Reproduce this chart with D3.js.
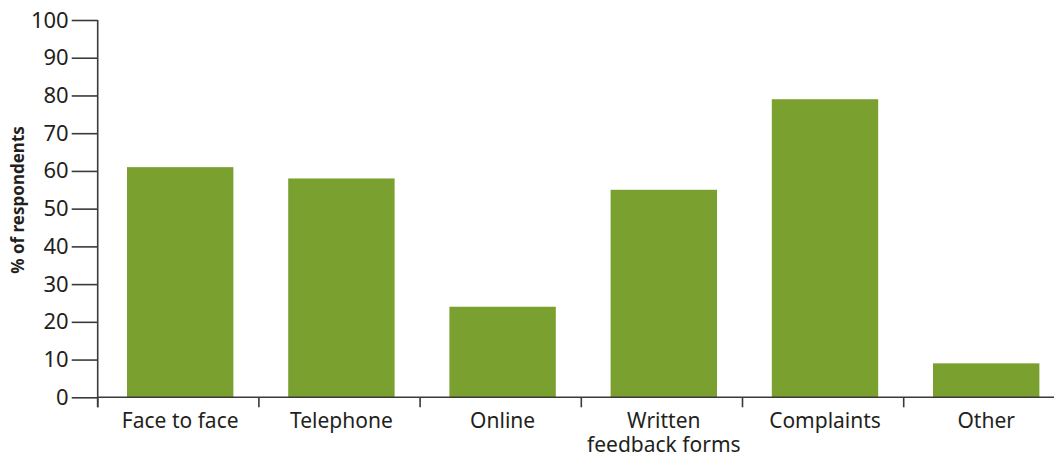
<!DOCTYPE html>
<html>
<head>
<meta charset="utf-8">
<script src="https://cdn.jsdelivr.net/npm/d3@7"></script>
<style>
  body { margin: 0; background: #fff; }
  svg text { font-family: "Noto Sans", "Open Sans", sans-serif; fill: #231f20; }
</style>
</head>
<body>
<svg id="chart" width="1054" height="459"></svg>
<script>
// data
var categories = ['Face to face', 'Telephone', 'Online', 'Written\nfeedback forms', 'Complaints', 'Other'];
var values = [61, 58, 24, 55, 79, 9];
var yTicks = [0, 10, 20, 30, 40, 50, 60, 70, 80, 90, 100];

var svg = d3.select('#chart');
var axisColor = '#3a3a3a';
var x0 = 97.7;

var x = d3.scaleBand()
  .domain(categories)
  .range([99.6, 1066.8])
  .paddingInner(0.34)
  .paddingOuter(0.17);

var y = d3.scaleLinear()
  .domain([0, 100])
  .range([397.3, 20]);

// bars
svg.append('g').selectAll('rect')
  .data(values)
  .enter().append('rect')
  .attr('x', function(d, i){ return x(categories[i]); })
  .attr('y', function(d){ return y(d); })
  .attr('width', x.bandwidth())
  .attr('height', function(d){ return y(0) - y(d); })
  .attr('fill', '#7aa130');

// y axis
var yAxis = svg.append('g')
  .attr('transform', 'translate(' + x0 + ',0)')
  .call(d3.axisLeft(y).tickValues(yTicks).tickSize(26).tickPadding(3));
yAxis.select('.domain').attr('stroke', axisColor).attr('stroke-width', 1.6).attr('d', 'M0,' + y(100) + 'V' + (y(0) + 10));
yAxis.selectAll('.tick line').attr('stroke', axisColor).attr('stroke-width', 1.6);
yAxis.selectAll('.tick text')
  .attr('font-size', 22)
  .attr('fill', '#231f20')
  .style('font-family', '"Noto Sans", sans-serif');

// x axis: baseline plus boundary ticks between categories
var step = x.step();
var bounds = d3.range(categories.length + 1).map(function(i){ return x0 + i * step; });
svg.append('line')
  .attr('x1', x0).attr('x2', 1054)
  .attr('y1', y(0)).attr('y2', y(0))
  .attr('stroke', axisColor).attr('stroke-width', 1.6);
svg.append('g').selectAll('line')
  .data(bounds)
  .enter().append('line')
  .attr('x1', function(d){ return d; }).attr('x2', function(d){ return d; })
  .attr('y1', y(0)).attr('y2', y(0) + 10)
  .attr('stroke', axisColor).attr('stroke-width', 1.6);

// category labels
var lab = svg.append('g').selectAll('text')
  .data(categories)
  .enter().append('text')
  .attr('text-anchor', 'middle')
  .attr('font-size', 21)
  .attr('transform', function(d){ return 'translate(' + (x(d) + x.bandwidth() / 2) + ',' + (y(0) + 31) + ')'; });
lab.selectAll('tspan')
  .data(function(d){ return d.split('\n'); })
  .enter().append('tspan')
  .attr('x', 0)
  .attr('dy', function(d, i){ return i ? 24 : 0; })
  .text(function(d){ return d; });

// y label
svg.append('text')
  .attr('transform', 'translate(24,' + 200 + ') rotate(-90)')
  .attr('text-anchor', 'middle')
  .attr('font-size', 17)
  .attr('font-weight', 'bold')
  .text('% of respondents');
</script>
</body>
</html>
